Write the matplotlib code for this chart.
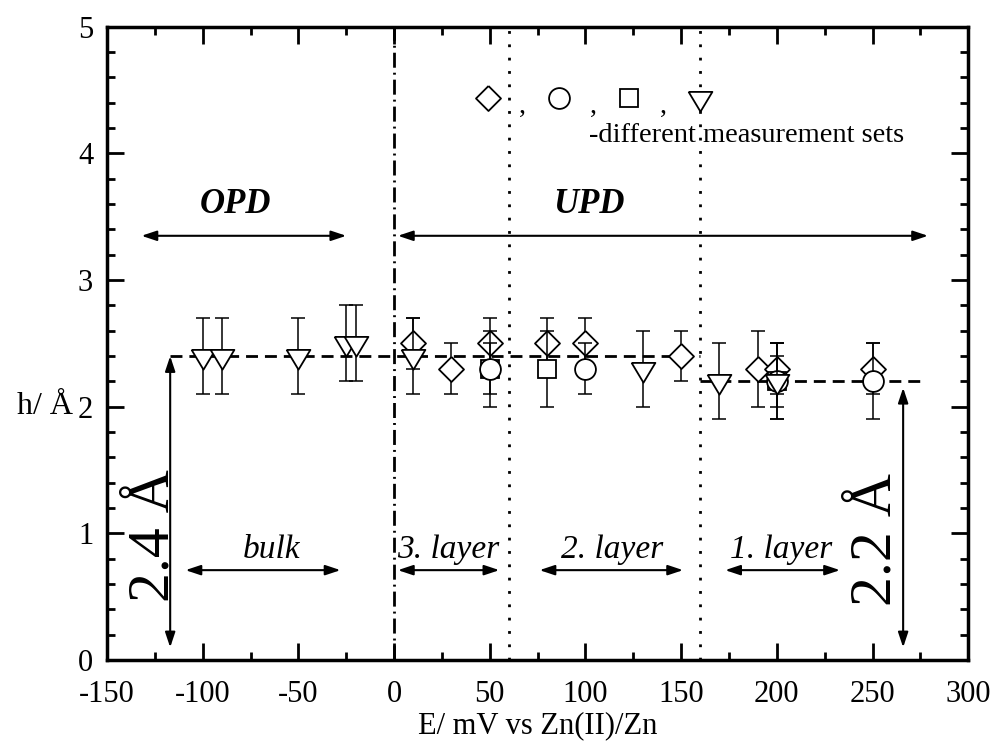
import matplotlib
matplotlib.use("Agg")
import matplotlib.pyplot as plt
from matplotlib.ticker import MultipleLocator

plt.rcParams['font.family'] = ['Liberation Serif', 'DejaVu Serif']
plt.rcParams['axes.unicode_minus'] = False

# measurement sets: potential (mV), height (A), error (A)
dia_x = [10, 30, 50, 80, 100, 150, 190, 200, 250]
dia_y = [2.5, 2.3, 2.5, 2.5, 2.5, 2.4, 2.3, 2.3, 2.3]
dia_e = [0.2, 0.2, 0.2, 0.2, 0.2, 0.2, 0.3, 0.2, 0.2]

sq_x = [50, 80, 200]
sq_y = [2.3, 2.3, 2.2]
sq_e = [0.3, 0.3, 0.3]

circ_x = [50, 100, 200, 250]
circ_y = [2.3, 2.3, 2.2, 2.2]
circ_e = [0.2, 0.2, 0.2, 0.3]

tri_x = [-100, -90, -50, -25, -20, 10, 130, 170, 200]
tri_y = [2.4, 2.4, 2.4, 2.5, 2.5, 2.4, 2.3, 2.2, 2.2]
tri_e = [0.3, 0.3, 0.3, 0.3, 0.3, 0.3, 0.3, 0.3, 0.3]

# mean heights and their ranges
mean_h = [2.4, 2.2]
mean_from = [-117, 160]
mean_to = [160, 277]

region_lines = [0, 60, 160]
layer_names = ['bulk', '3. layer', '2. layer', '1. layer']
layer_from = [-109, 2, 76, 173]
layer_to = [-28, 55, 151, 233]
layer_text_x = [-64, 28, 114, 202]

tri_marker = [(-0.9, 0.5), (0.9, 0.5), (0, -1), (-0.9, 0.5)]
dia_marker = [(0, 1), (1, 0), (0, -1), (-1, 0), (0, 1)]

fig = plt.figure(figsize=(9.91, 7.45), dpi=100)
ax = fig.add_axes([0.108, 0.114, 0.869, 0.85])

# region separators
ax.axvline(region_lines[0], color='black', lw=2, linestyle=(0, (5.4, 1.8, 0.7, 1.8)), zorder=1)
for xv in region_lines[1:]:
    ax.axvline(xv, color='black', lw=2, linestyle=(0, (1, 3.8)), zorder=1)

# mean height lines
for h, x0, x1 in zip(mean_h, mean_from, mean_to):
    ax.plot([x0, x1], [h, h], color='black', lw=2, linestyle=(0, (4.3, 2.5)), zorder=2)

sets = [
    (dia_x, dia_y, dia_e, dia_marker, 18),
    (sq_x, sq_y, sq_e, 's', 13.5),
    (circ_x, circ_y, circ_e, 'o', 15),
    (tri_x, tri_y, tri_e, tri_marker, 19),
]
for i, (x, y, e, m, ms) in enumerate(sets):
    ax.errorbar(x, y, yerr=e, fmt='none', ecolor='black', elinewidth=1.1,
                capsize=4.7, capthick=1.1, zorder=3 + 2 * i)
    ax.plot(x, y, linestyle='none', marker=m, markersize=ms, markerfacecolor='white',
            markeredgecolor='black', markeredgewidth=1.3, zorder=4 + 2 * i)

arrow = dict(arrowstyle='<|-|>,head_length=0.9,head_width=0.3', color='black',
             lw=1.5, shrinkA=0, shrinkB=0)

# OPD / UPD
ax.annotate('', xy=(-132, 3.35), xytext=(-25, 3.35), arrowprops=arrow)
ax.annotate('', xy=(2, 3.35), xytext=(279, 3.35), arrowprops=arrow)
ax.text(-83, 3.6, 'OPD', fontsize=25, fontweight='bold', fontstyle='italic',
        ha='center', va='center')
ax.text(102, 3.6, 'UPD', fontsize=25, fontweight='bold', fontstyle='italic',
        ha='center', va='center')

# layers
for name, x0, x1, tx in zip(layer_names, layer_from, layer_to, layer_text_x):
    ax.annotate('', xy=(x0, 0.71), xytext=(x1, 0.71), arrowprops=arrow)
    ax.text(tx, 0.87, name, fontsize=24, fontstyle='italic',
            ha='center', va='center')

# height arrows
ax.annotate('', xy=(-117, 0.1), xytext=(-117, 2.4), arrowprops=arrow)
ax.annotate('', xy=(266, 0.1), xytext=(266, 2.15), arrowprops=arrow)
ax.text(-125, 0.98, '2.4 Å', fontsize=43, rotation=90, ha='center', va='center')
ax.text(252, 0.95, '2.2 Å', fontsize=43, rotation=90, ha='center', va='center')

# symbol key
key_x = [49, 86, 123, 160]
key_m = [dia_marker, 'o', 's', tri_marker]
key_ms = [18, 15, 13.5, 19]
for kx, km, kms in zip(key_x, key_m, key_ms):
    ax.plot([kx], [4.44], linestyle='none', marker=km, markersize=kms,
            markerfacecolor='white', markeredgecolor='black', markeredgewidth=1.3)
for cx in [67, 104, 141]:
    ax.text(cx, 4.37, ',', fontsize=20, ha='center', va='center')
ax.text(102, 4.14, '-different measurement sets', fontsize=20.5, ha='left', va='center')

ax.set_xlim(-150, 300)
ax.set_ylim(0, 5)
ax.xaxis.set_major_locator(MultipleLocator(50))
ax.xaxis.set_minor_locator(MultipleLocator(25))
ax.yaxis.set_major_locator(MultipleLocator(1))
ax.yaxis.set_minor_locator(MultipleLocator(0.2))
ax.tick_params(which='both', direction='in', top=True, right=True, width=2,
               labelsize=22)
ax.tick_params(which='major', length=12)
ax.tick_params(axis='x', which='major', pad=14)
ax.tick_params(axis='y', which='major', pad=10)
ax.tick_params(which='minor', length=6)
for s in ax.spines.values():
    s.set_linewidth(2.5)

ax.set_xlabel('E/ mV vs Zn(II)/Zn', fontsize=22, labelpad=2)
ax.set_ylabel('h/ Å', fontsize=23, rotation=0, va='center', ha='center')
ax.yaxis.set_label_coords(-0.072, 0.4)

fig.savefig('out.png', dpi=100)
